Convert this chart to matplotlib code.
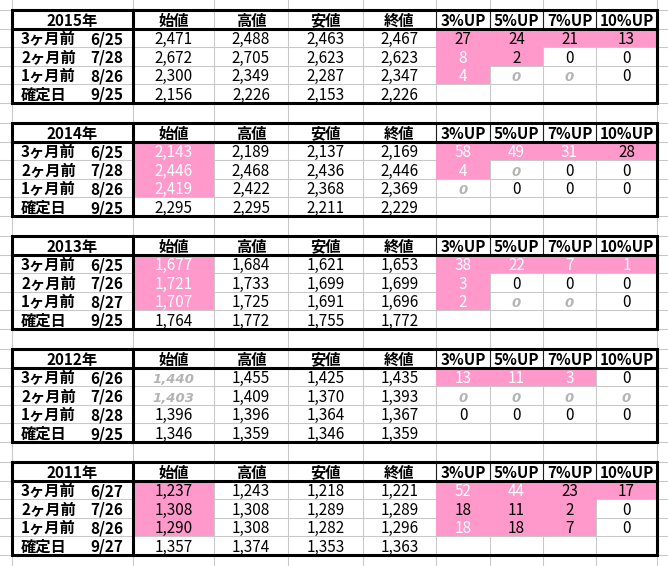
import matplotlib
matplotlib.use('Agg')
import matplotlib.pyplot as plt
from matplotlib.patches import Rectangle

plt.rcParams['font.family'] = ['Noto Sans CJK JP', 'DejaVu Sans']

# ---- data -------------------------------------------------------------
years = ['2015年', '2014年', '2013年', '2012年', '2011年']
row_labels = ['3ヶ月前', '2ヶ月前', '1ヶ月前', '確定日']
dates = [['6/25', '7/28', '8/26', '9/25'],
         ['6/25', '7/28', '8/26', '9/25'],
         ['6/25', '7/26', '8/27', '9/25'],
         ['6/26', '7/26', '8/28', '9/25'],
         ['6/27', '7/26', '8/26', '9/27']]
columns = ['始値', '高値', '安値', '終値', '3%UP', '5%UP', '7%UP', '10%UP']

open_px = [[2471, 2672, 2300, 2156], [2143, 2446, 2419, 2295], [1677, 1721, 1707, 1764],
           [1440, 1403, 1396, 1346], [1237, 1308, 1290, 1357]]
high_px = [[2488, 2705, 2349, 2226], [2189, 2468, 2422, 2295], [1684, 1733, 1725, 1772],
           [1455, 1409, 1396, 1359], [1243, 1308, 1308, 1374]]
low_px = [[2463, 2623, 2287, 2153], [2137, 2436, 2368, 2211], [1621, 1699, 1691, 1755],
          [1425, 1370, 1364, 1346], [1218, 1289, 1282, 1353]]
close_px = [[2467, 2623, 2347, 2226], [2169, 2446, 2369, 2229], [1653, 1699, 1696, 1772],
            [1435, 1393, 1367, 1359], [1221, 1289, 1296, 1363]]
up_counts = [[[27, 24, 21, 13], [8, 2, 0, 0], [4, 0, 0, 0]],
             [[58, 49, 31, 28], [4, 0, 0, 0], [0, 0, 0, 0]],
             [[38, 22, 7, 1], [3, 0, 0, 0], [2, 0, 0, 0]],
             [[13, 11, 3, 0], [0, 0, 0, 0], [0, 0, 0, 0]],
             [[52, 44, 23, 17], [18, 11, 2, 0], [18, 18, 7, 0]]]

# cell styles: p = pink/black text, w = pink/white text, g = grey italic, n = plain
open_style = [['n', 'n', 'n', 'n'], ['w', 'w', 'w', 'n'], ['w', 'w', 'w', 'n'],
              ['g', 'g', 'n', 'n'], ['p', 'p', 'p', 'n']]
up_style = [[['p', 'p', 'p', 'p'], ['w', 'p', 'n', 'n'], ['w', 'g', 'g', 'n']],
            [['w', 'w', 'w', 'p'], ['w', 'g', 'n', 'n'], ['g', 'n', 'n', 'n']],
            [['w', 'w', 'w', 'w'], ['w', 'n', 'n', 'n'], ['w', 'g', 'g', 'n']],
            [['w', 'w', 'w', 'n'], ['g', 'g', 'g', 'g'], ['n', 'n', 'n', 'n']],
            [['w', 'w', 'p', 'p'], ['p', 'p', 'p', 'n'], ['w', 'p', 'p', 'n']]]

# ---- layout -----------------------------------------------------------
col_edges = [12, 133, 214, 288, 363, 436, 490, 543, 596, 657]
first_top = 10
table_step = 113
rh = 18.6
PINK = '#ff99cc'
GRID = '#c8c8c8'
GREY_TXT = '#b4b4b4'
FS = 11

fig = plt.figure(figsize=(6.68, 5.66), dpi=100)
ax = fig.add_axes([0, 0, 1, 1])
ax.set_xlim(0, 668)
ax.set_ylim(566, 0)
ax.axis('off')

# spreadsheet gridlines
for x in col_edges:
    ax.plot([x, x], [0, 566], color=GRID, lw=0.75, zorder=1)
hlines = []
for t in range(len(years)):
    top = first_top + t * table_step
    hlines += [top + k * rh for k in range(6)]
hlines.append(first_top + len(years) * table_step)
for y in hlines:
    ax.plot([0, 668], [y, y], color=GRID, lw=0.75, zorder=1)


def cell_text(ax, col, y_bot, value, style):
    xc = (col_edges[col] + col_edges[col + 1]) / 2
    txt = f'{value:,}'
    if style == 'g':
        ax.text(xc, y_bot - 3, txt, ha='center', va='baseline', fontsize=9.5,
                color=GREY_TXT, family='DejaVu Sans', style='italic',
                weight='bold', zorder=5)
    else:
        color = 'white' if style == 'w' else 'black'
        ax.text(xc, y_bot - 3, txt, ha='center', va='baseline', fontsize=FS,
                color=color, zorder=5)


def pink(ax, col, y_top):
    ax.add_patch(Rectangle((col_edges[col], y_top), col_edges[col + 1] - col_edges[col],
                           rh, facecolor=PINK, edgecolor='none', zorder=2))


for t, year in enumerate(years):
    top = first_top + t * table_step
    bottom = top + 5 * rh

    # header row
    ax.text((col_edges[0] + col_edges[1]) / 2, top + rh - 3, year, ha='center',
            va='baseline', fontsize=FS, weight='bold', zorder=5)
    for c, name in enumerate(columns):
        xc = (col_edges[c + 1] + col_edges[c + 2]) / 2
        ax.text(xc, top + rh - 3, name, ha='center', va='baseline',
                fontsize=FS, weight='bold', zorder=5)
    for x in col_edges[5:9]:
        ax.plot([x, x], [top, top + rh], color='#202020', lw=0.8, zorder=3)

    # data rows
    series = [open_px[t], high_px[t], low_px[t], close_px[t]]
    for r in range(4):
        y_top = top + (r + 1) * rh
        y_bot = y_top + rh
        ax.text(21, y_bot - 3, row_labels[r], ha='left', va='baseline',
                fontsize=FS, weight='bold', zorder=5)
        ax.text(123, y_bot - 3, dates[t][r], ha='right', va='baseline',
                fontsize=FS, weight='bold', zorder=5)
        for k, vals in enumerate(series):
            st = open_style[t][r] if k == 0 else 'n'
            if st in ('p', 'w'):
                pink(ax, 1 + k, y_top)
            cell_text(ax, 1 + k, y_bot, vals[r], st)
        if r < 3:
            for k in range(4):
                st = up_style[t][r][k]
                if st in ('p', 'w'):
                    pink(ax, 5 + k, y_top)
                cell_text(ax, 5 + k, y_bot, up_counts[t][r][k], st)

    # thick borders
    lw = 2.2
    ax.add_patch(Rectangle((col_edges[0], top), col_edges[-1] - col_edges[0], 5 * rh,
                           facecolor='none', edgecolor='black', lw=lw, zorder=6))
    ax.plot([col_edges[0], col_edges[-1]], [top + rh, top + rh], color='black', lw=lw, zorder=6)
    ax.plot([col_edges[1], col_edges[1]], [top, bottom], color='black', lw=lw, zorder=6)

fig.savefig('out.png', dpi=100)
